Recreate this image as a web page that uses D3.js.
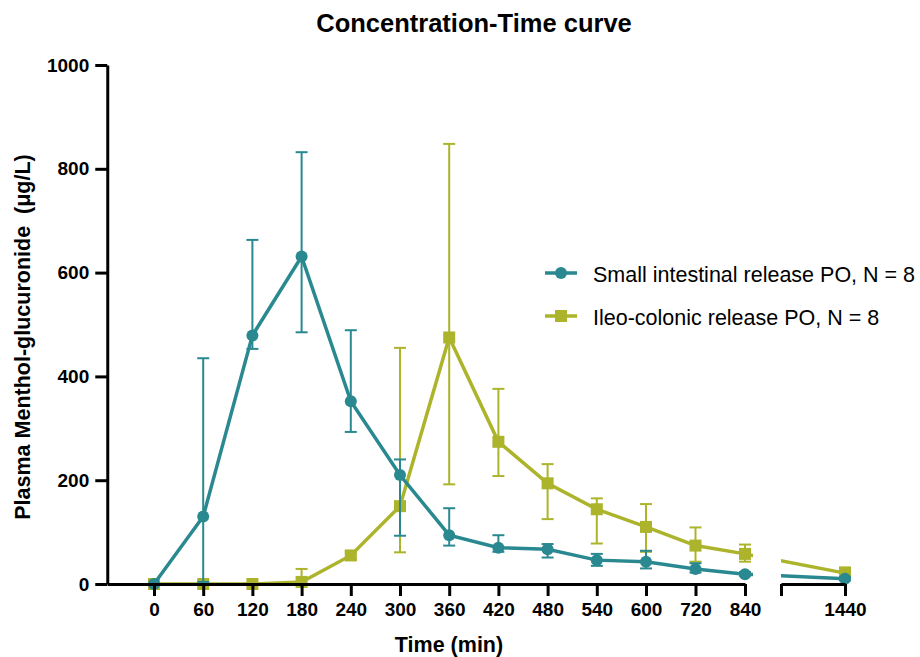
<!DOCTYPE html>
<html>
<head>
<meta charset="utf-8">
<script src="https://cdn.jsdelivr.net/npm/d3@7"></script>
<style>
  body { margin: 0; background: #fff; }
  text { font-family: "Liberation Sans", Arial, sans-serif; }
</style>
</head>
<body>
<div id="chart"></div>
<script>
// time points (min)
var times = [0, 60, 120, 180, 240, 300, 360, 420, 480, 540, 600, 720, 840, 1440];

// Small intestinal release PO
var siMean  = [0, 130, 479, 631, 352, 210, 94, 70, 67, 46, 43, 29, 19, 10];
var siLower = [0, 4, 453, 485, 293, 93, 74, 62, 51, 35, 30, 22, 16, 7];
var siUpper = [0, 435, 663, 832, 489, 240, 146, 94, 77, 58, 64, 40, 23, 13];

// Ileo-colonic release PO
var icMean  = [0, 0, 0, 4, 55, 150, 475, 274, 194, 144, 110, 74, 58, 21];
var icLower = [0, 0, 0, 0, 47, 61, 192, 208, 125, 78, 62, 43, 43, 15];
var icUpper = [0, 0, 2, 29, 62, 455, 848, 376, 231, 165, 154, 109, 76, 32];

var yTicks = [0, 200, 400, 600, 800, 1000];
var xTicks1 = [0, 60, 120, 180, 240, 300, 360, 420, 480, 540, 600, 720, 840];
var breakStart = 1056;

const teal = "#2a8990";
const olive = "#acb42b";

var width = 920, height = 657;

var svg = d3.select("#chart").append("svg")
  .attr("width", width).attr("height", height);

var x = d3.scaleLinear().domain([0, 600, 840, 1440]).range([154, 646, 745, 845]);
var y = d3.scaleLinear().domain([0, 1000]).range([584, 65]);
var xLeft = -57;

// title
svg.append("text")
  .attr("x", 474).attr("y", 32)
  .attr("text-anchor", "middle")
  .style("font-size", "25.5px").style("font-weight", "bold")
  .text("Concentration-Time curve");

// clip regions for the axis break
var defs = svg.append("defs");
defs.append("clipPath").attr("id", "seg1").append("rect")
  .attr("x", 0).attr("y", 0).attr("width", x(840) + 8).attr("height", height);
defs.append("clipPath").attr("id", "seg2").append("rect")
  .attr("x", x(breakStart)).attr("y", 0).attr("width", width - x(breakStart)).attr("height", height);

var series = [
  { name: "Ileo-colonic release PO, N = 8", color: olive, shape: "square", mean: icMean, lo: icLower, hi: icUpper },
  { name: "Small intestinal release PO, N = 8", color: teal, shape: "circle", mean: siMean, lo: siLower, hi: siUpper }
];

var line = d3.line().x(d => x(d.t)).y(d => y(d.v));

series.forEach(function (s) {
  var pts = times.map((t, i) => ({ t: t, v: s.mean[i], lo: s.lo[i], hi: s.hi[i] }));
  var g = svg.append("g");

  // error bars
  var eb = g.selectAll(".eb").data(pts).join("g");
  eb.append("line")
    .attr("x1", d => x(d.t)).attr("x2", d => x(d.t))
    .attr("y1", d => y(d.lo)).attr("y2", d => y(d.hi))
    .style("stroke", s.color).style("stroke-width", 2);
  eb.append("line")
    .attr("x1", d => x(d.t) - 6).attr("x2", d => x(d.t) + 6)
    .attr("y1", d => y(d.hi)).attr("y2", d => y(d.hi))
    .style("stroke", s.color).style("stroke-width", 2);
  eb.append("line")
    .attr("x1", d => x(d.t) - 6).attr("x2", d => x(d.t) + 6)
    .attr("y1", d => y(d.lo)).attr("y2", d => y(d.lo))
    .style("stroke", s.color).style("stroke-width", 2);

  // lines, split by the axis break
  g.append("path").datum(pts).attr("clip-path", "url(#seg1)")
    .attr("d", line)
    .style("fill", "none").style("stroke", s.color).style("stroke-width", 3.5);
  g.append("path").datum(pts.slice(-2)).attr("clip-path", "url(#seg2)")
    .attr("d", line)
    .style("fill", "none").style("stroke", s.color).style("stroke-width", 3.5);

  // markers
  if (s.shape === "circle") {
    g.selectAll(".mk").data(pts).join("circle")
      .attr("cx", d => x(d.t)).attr("cy", d => y(d.v)).attr("r", 6)
      .style("fill", s.color);
  } else {
    g.selectAll(".mk").data(pts).join("rect")
      .attr("x", d => x(d.t) - 6).attr("y", d => y(d.v) - 6)
      .attr("width", 12).attr("height", 12)
      .style("fill", s.color);
  }
});

// y axis
var yAxis = svg.append("g")
  .attr("transform", "translate(" + x(xLeft) + ",0)")
  .call(d3.axisLeft(y).tickValues(yTicks).tickFormat(d3.format("d"))
    .tickSize(12).tickSizeOuter(0).tickPadding(6));

// x axis, first segment
var xAxis1 = svg.append("g")
  .attr("transform", "translate(0," + y(0) + ")")
  .call(d3.axisBottom(x.copy().domain([xLeft, 0, 600, 840]).range([x(xLeft), x(0), x(600), x(840)]))
    .tickValues(xTicks1).tickSize(12).tickSizeOuter(0).tickPadding(7));

// x axis, second segment
var xAxis2 = svg.append("g")
  .attr("transform", "translate(0," + y(0) + ")")
  .call(d3.axisBottom(x.copy().domain([breakStart, 1440]).range([x(breakStart), x(1440)]))
    .tickValues([breakStart, 1440]).tickFormat(d => d === breakStart ? "" : d)
    .tickSize(12).tickSizeOuter(0).tickPadding(7));

[yAxis, xAxis1, xAxis2].forEach(function (a) {
  a.selectAll("path, line").style("stroke", "#000").style("stroke-width", 3);
  a.selectAll("text")
    .style("font-family", "'Liberation Sans', Arial, sans-serif")
    .style("font-size", "19px").style("font-weight", "bold").style("fill", "#000");
});

// axis titles
svg.append("text")
  .attr("x", 449).attr("y", 652)
  .attr("text-anchor", "middle")
  .style("font-size", "21.5px").style("font-weight", "bold")
  .text("Time (min)");

svg.append("text")
  .attr("transform", "translate(30,337) rotate(-90)")
  .attr("text-anchor", "middle")
  .style("font-size", "21.5px").style("font-weight", "bold")
  .style("white-space", "pre")
  .text("Plasma Menthol-glucuronide  (\u03bcg/L)");

// legend
var legend = svg.append("g");
series.slice().reverse().forEach(function (s, i) {
  var ly = 273 + i * 43;
  legend.append("line")
    .attr("x1", 545).attr("x2", 577).attr("y1", ly).attr("y2", ly)
    .style("stroke", s.color).style("stroke-width", 3.5);
  if (s.shape === "circle") {
    legend.append("circle").attr("cx", 561).attr("cy", ly).attr("r", 6).style("fill", s.color);
  } else {
    legend.append("rect").attr("x", 555).attr("y", ly - 6).attr("width", 12).attr("height", 12).style("fill", s.color);
  }
  legend.append("text")
    .attr("x", 593).attr("y", ly + 9)
    .style("font-size", "21.5px")
    .text(s.name);
});
</script>
</body>
</html>
